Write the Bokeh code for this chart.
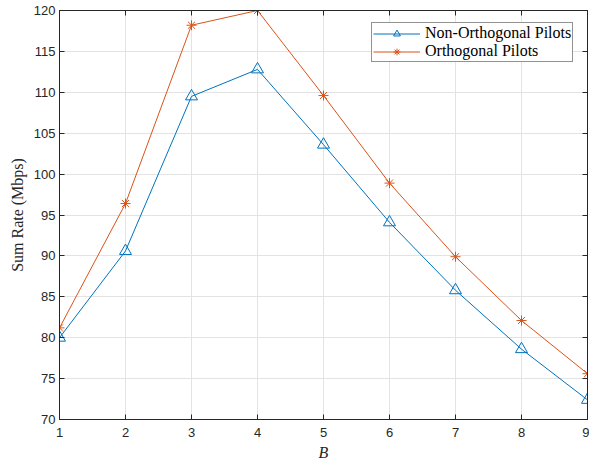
from bokeh.plotting import figure
from bokeh.models import FixedTicker, LinearAxis, Legend, LegendItem, Range1d
from bokeh.embed import file_html
from bokeh.resources import INLINE

B = [1, 2, 3, 4, 5, 6, 7, 8, 9]
non_orth = [80.0, 90.6, 109.5, 112.8, 103.6, 94.1, 85.8, 78.6, 72.4]
orth = [81.2, 96.4, 118.2, 120.0, 109.6, 98.9, 89.9, 82.1, 75.6]
x_ticks = [1, 2, 3, 4, 5, 6, 7, 8, 9]
y_ticks = [70, 75, 80, 85, 90, 95, 100, 105, 110, 115, 120]

BLUE = "#0072BD"
ORANGE = "#D95319"
AX = "#262626"

p = figure(frame_width=528, frame_height=409, output_backend="svg", toolbar_location=None,
           x_range=Range1d(1, 9), y_range=Range1d(70, 120),
           min_border_left=59, min_border_top=10, min_border_right=2, min_border_bottom=40)
p.background_fill_color = "white"
p.border_fill_color = "white"
p.outline_line_color = AX
p.outline_line_width = 1

for ax in (p.xaxis[0], p.yaxis[0]):
    ax.axis_line_color = AX
    ax.major_tick_line_color = AX
    ax.major_tick_in = 5
    ax.major_tick_out = 0
    ax.minor_tick_line_color = None
    ax.major_label_text_font = "Liberation Sans"
    ax.major_label_text_font_size = "13px"
    ax.major_label_text_color = AX
    ax.axis_label_text_color = AX
    ax.axis_label_text_font = "Liberation Serif"

p.xaxis[0].ticker = FixedTicker(ticks=x_ticks)
p.yaxis[0].ticker = FixedTicker(ticks=y_ticks)
p.xaxis[0].axis_label = "B"
p.xaxis[0].axis_label_text_font_style = "italic"
p.xaxis[0].axis_label_text_font_size = "16px"
p.xaxis[0].major_label_standoff = 8
p.xaxis[0].axis_label_standoff = 4
p.yaxis[0].axis_label = "Sum Rate (Mbps)"
p.yaxis[0].axis_label_text_font_style = "normal"
p.yaxis[0].axis_label_text_font_size = "16px"
p.yaxis[0].major_label_standoff = 4
p.yaxis[0].axis_label_standoff = 5

for loc, tk in (("above", x_ticks), ("right", y_ticks)):
    a = LinearAxis(ticker=FixedTicker(ticks=tk))
    a.axis_line_color = AX
    a.major_tick_line_color = AX
    a.major_tick_in = 5
    a.major_tick_out = 0
    a.minor_tick_line_color = None
    a.major_label_overrides = {t: "" for t in tk}
    a.major_label_standoff = 0
    p.add_layout(a, loc)

p.grid.grid_line_color = "#e3e3e3"
p.xgrid.ticker = FixedTicker(ticks=x_ticks)
p.ygrid.ticker = FixedTicker(ticks=y_ticks)

l1 = p.line(B, non_orth, line_color=BLUE, line_width=1)
s1 = p.scatter(B, non_orth, marker="triangle", size=12, line_color=BLUE, fill_color=None, line_width=1)
l2 = p.line(B, orth, line_color=ORANGE, line_width=1)
s2 = p.scatter(B, orth, marker="asterisk", size=10, line_color=ORANGE, line_width=1)

legend = Legend(items=[LegendItem(label="Non-Orthogonal Pilots", renderers=[l1, s1]),
                       LegendItem(label="Orthogonal Pilots", renderers=[l2, s2])],
                location=(312, 357))
legend.label_text_font = "Liberation Serif"
legend.label_text_font_size = "16px"
legend.label_text_color = "black"
legend.border_line_color = AX
legend.border_line_width = 1
legend.background_fill_color = "white"
legend.background_fill_alpha = 1
legend.padding = 1
legend.spacing = 0
legend.margin = 0
legend.glyph_width = 47
legend.glyph_height = 17
legend.label_height = 17
legend.label_standoff = 5
p.add_layout(legend, "center")

open("out.html", "w").write(file_html(p, INLINE))
